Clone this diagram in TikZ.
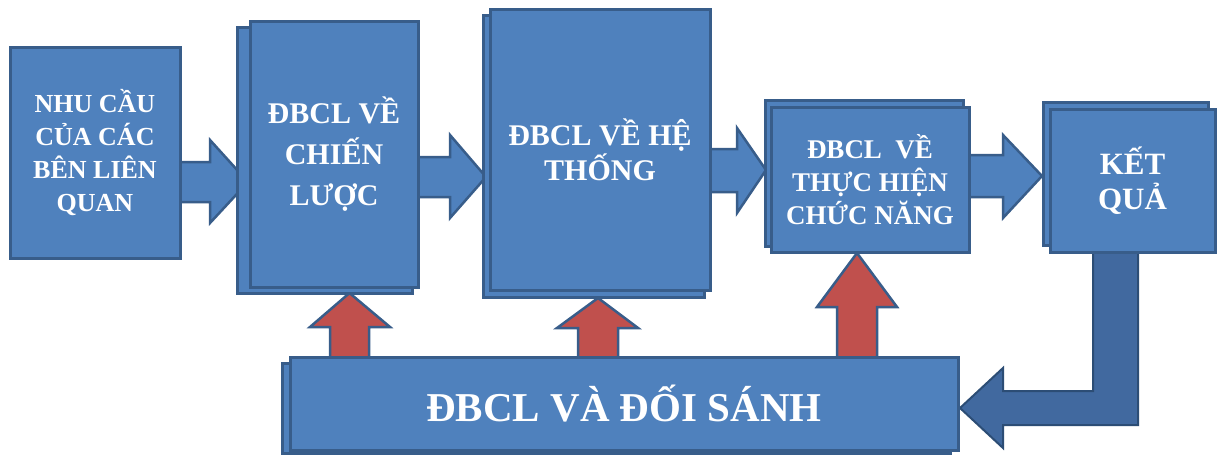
\documentclass[tikz,border=0pt]{standalone}
\usepackage{fontspec}
\setmainfont{Liberation Serif}
\definecolor{bfill}{HTML}{4F81BD}
\definecolor{bline}{HTML}{385D8A}
\definecolor{dfill}{HTML}{41699F}
\definecolor{dline}{HTML}{2C4D75}
\definecolor{rfill}{HTML}{C0504D}
\tikzset{
  box/.style={draw=bline, fill=bfill, line width=3pt, inner sep=0pt, text=white, align=center},
  backbox/.style={draw=bline, fill=bfill, line width=3pt},
  barrow/.style={draw=bline, fill=bfill, line width=2.5pt, line join=miter},
  rarrow/.style={draw=bline, fill=rfill, line width=2.5pt, line join=miter},
  darrow/.style={draw=dline, fill=dfill, line width=2pt, line join=miter},
}
\begin{document}
\begin{tikzpicture}[x=1pt,y=-1pt]
\useasboundingbox[fill=white] (0,0) rectangle (1217,455);
% horizontal block arrows
\draw[barrow] (178,162) -- (210,162) -- (210,140) -- (248,182) -- (210,223) -- (210,202) -- (178,202) -- cycle;
\draw[barrow] (416,157) -- (450,157) -- (450,135) -- (486,177) -- (450,218) -- (450,197) -- (416,197) -- cycle;
\draw[barrow] (708,149) -- (737,149) -- (737,128) -- (766,170) -- (737,213) -- (737,192) -- (708,192) -- cycle;
\draw[barrow] (968,155) -- (1003,155) -- (1003,135) -- (1042,176) -- (1003,218) -- (1003,197) -- (968,197) -- cycle;
% bent arrow
\draw[darrow] (1093,250) -- (1138,250) -- (1138,425) -- (1003,425) -- (1003,448) -- (960,408) -- (1003,368) -- (1003,391) -- (1093,391) -- cycle;
% red up arrows
\draw[rarrow] (330,360) -- (330,327) -- (310,327) -- (349.5,293) -- (390,327) -- (369,327) -- (369,360) -- cycle;
\draw[rarrow] (578,360) -- (578,328) -- (557,328) -- (598,298) -- (638,328) -- (618,328) -- (618,360) -- cycle;
\draw[rarrow] (837,360) -- (837,307) -- (817,307) -- (857,253) -- (897,307) -- (877,307) -- (877,360) -- cycle;
% boxes
\node[box, minimum width=170pt, minimum height=211pt, font=\fontsize{26}{33}\selectfont\bfseries] (b1) at (95,152.5) {NHU CẦU\\CỦA CÁC\\BÊN LIÊN\\QUAN};
\draw[backbox] (237,27) rectangle (412,293);
\node[box, minimum width=168pt, minimum height=266pt, font=\fontsize{30}{41}\selectfont\bfseries] (b2) at (334,154) {ĐBCL VỀ\\CHIẾN\\LƯỢC};
\draw[backbox] (483,15) rectangle (704,297);
\node[box, minimum width=220pt, minimum height=281pt, font=\fontsize{30}{35}\selectfont\bfseries] (b3) at (600,149.5) {ĐBCL VỀ HỆ\\THỐNG};
\draw[backbox] (765,100) rectangle (963,246);
\node[box, minimum width=198pt, minimum height=145pt, font=\fontsize{27}{33}\selectfont\bfseries] (b4) at (870,179.5) {ĐBCL\ \ VỀ\\THỰC HIỆN\\CHỨC NĂNG};
\draw[backbox] (1043,102) rectangle (1208,245);
\node[box, minimum width=165pt, minimum height=143pt, font=\fontsize{31}{35}\selectfont\bfseries] (b5) at (1132.5,180.5) {KẾT\\QUẢ};
\draw[backbox] (282,363) rectangle (950,453);
\node[box, minimum width=668pt, minimum height=93pt, font=\fontsize{41}{45}\selectfont\bfseries] (b6) at (624,403.5) {ĐBCL VÀ ĐỐI SÁNH};
\end{tikzpicture}
\end{document}
